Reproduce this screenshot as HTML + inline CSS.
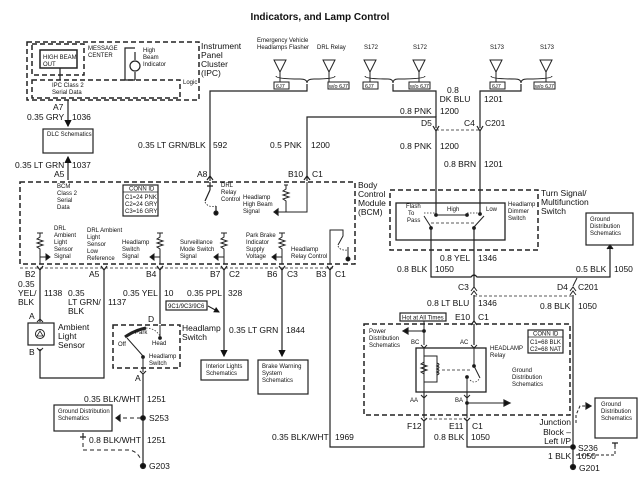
<!DOCTYPE html>
<html><head><meta charset="utf-8"><style>
html,body{margin:0;padding:0;background:#fff}
svg{display:block}
text{font-family:"Liberation Sans",Arial,sans-serif;fill:#111}
.s{font-size:6px}.m{font-size:8.5px}.l{font-size:10px}
</style></head><body>
<svg width="640" height="480" viewBox="0 0 640 480" xmlns="http://www.w3.org/2000/svg">
<defs>
<marker id="ar" markerWidth="6" markerHeight="6" refX="5" refY="3" orient="auto"><path d="M0,0 L6,3 L0,6z" fill="#111"/></marker>
</defs>
<g stroke="#222" fill="none" stroke-width="1.2">
<text x="320" y="20" text-anchor="middle" style="font-size:10px;font-weight:bold" stroke="none">Indicators, and Lamp Control</text>

<!-- IPC -->
<rect x="27" y="42" width="172" height="58" stroke-dasharray="5,3" stroke-width="1.5"/>
<rect x="32" y="44" width="52" height="31" stroke-dasharray="5,3" stroke-width="1.5"/>
<rect x="40" y="50" width="37" height="18" stroke-width="1.5"/>
<line x1="60" y1="68" x2="60" y2="80"/>
<rect x="32" y="80" width="148" height="18" stroke-dasharray="5,3" stroke-width="1.5"/>
<path d="M125,80 V48 H135 M135,52 V60 M135,72 V80 M125,80 H135"/>
<circle cx="135" cy="66" r="5"/>
<text x="88" y="50" class="s" stroke="none">MESSAGE</text><text x="88" y="57" class="s" stroke="none">CENTER</text>
<text x="43" y="59" class="s" stroke="none">HIGH BEAM</text><text x="43" y="66" class="s" stroke="none">OUT</text>
<text x="143" y="52" class="s" stroke="none">High</text><text x="143" y="59" class="s" stroke="none">Beam</text><text x="143" y="66" class="s" stroke="none">Indicator</text>
<text x="183" y="84" class="s" stroke="none">Logic</text>
<text x="52" y="87" class="s" stroke="none">IPC Class 2</text><text x="52" y="94" class="s" stroke="none">Serial Data</text>
<text x="201" y="49" class="m" stroke="none">Instrument</text><text x="201" y="58" class="m" stroke="none">Panel</text><text x="201" y="67" class="m" stroke="none">Cluster</text><text x="201" y="76" class="m" stroke="none">(IPC)</text>

<!-- DLC -->
<line x1="68" y1="100" x2="68" y2="126" marker-end="url(#ar)"/>
<text x="53" y="110" class="m" stroke="none">A7</text>
<text x="27" y="120" class="m" stroke="none">0.35 GRY</text><text x="72" y="120" class="m" stroke="none">1036</text>
<rect x="43" y="129" width="50" height="24"/>
<text x="47" y="136" class="s" stroke="none">DLC Schematics</text>
<line x1="68" y1="180" x2="68" y2="157" marker-end="url(#ar)"/>
<text x="15" y="168" class="m" stroke="none">0.35 LT GRN</text><text x="72" y="168" class="m" stroke="none">1037</text>
<text x="54" y="177" class="m" stroke="none">A5</text>

<!-- top splices -->
<g stroke-width="1">
<path d="M274,60 L286,60 L280,72z"/><line x1="280" y1="72" x2="280" y2="82"/>
<path d="M323,60 L335,60 L329,72z"/><line x1="329" y1="72" x2="329" y2="82"/>
<path d="M364,60 L376,60 L370,72z"/><line x1="370" y1="72" x2="370" y2="82"/>
<path d="M413,60 L425,60 L419,72z"/><line x1="419" y1="72" x2="419" y2="82"/>
<path d="M490,60 L502,60 L496,72z"/><line x1="496" y1="72" x2="496" y2="82"/>
<path d="M540,60 L552,60 L546,72z"/><line x1="546" y1="72" x2="546" y2="82"/>
<path d="M276,76 Q276,79 300,79 Q307,79 307,83 Q307,79 314,79 Q335,79 335,76"/>
<path d="M365,76 Q365,79 388,79 Q393,79 393,83 Q393,79 398,79 Q425,79 425,76"/>
<path d="M491,76 Q491,79 515,79 Q521,79 521,83 Q521,79 527,79 Q552,79 552,76"/>
</g>
<text x="257" y="42" class="s" stroke="none">Emergency Vehicle</text><text x="257" y="49" class="s" stroke="none">Headlamps Flasher</text>
<text x="317" y="49" class="s" stroke="none">DRL Relay</text>
<text x="364" y="49" class="s" stroke="none">S172</text><text x="413" y="49" class="s" stroke="none">S172</text>
<text x="490" y="49" class="s" stroke="none">S173</text><text x="540" y="49" class="s" stroke="none">S173</text>
<g stroke-width="1"><rect x="274" y="82" width="15" height="7"/><rect x="328" y="82" width="21" height="7"/><rect x="363" y="82" width="15" height="7"/><rect x="409" y="82" width="21" height="7"/><rect x="490" y="82" width="15" height="7"/><rect x="534" y="82" width="21" height="7"/></g>
<g class="s" stroke="none" style="font-size:5.5px"><text x="276" y="88">6J7</text><text x="329" y="88">w/o 6J7</text><text x="365" y="88">6J7</text><text x="410" y="88">w/o 6J7</text><text x="492" y="88">6J7</text><text x="535" y="88">w/o 6J7</text></g>

<!-- wires to top -->
<path d="M210,181 V91 H307 V84"/>
<text x="138" y="148" class="m" stroke="none">0.35 LT GRN/BLK</text><text x="213" y="148" class="m" stroke="none">592</text>
<path d="M307,181 V117 H436 V128"/>
<text x="270" y="148" class="m" stroke="none">0.5 PNK</text><text x="311" y="148" class="m" stroke="none">1200</text>
<path d="M393,84 V91 H436 V117"/>
<text x="400" y="114" class="m" stroke="none">0.8 PNK</text><text x="440" y="114" class="m" stroke="none">1200</text>
<path d="M521,84 V91 H480 V128"/>
<text x="447" y="93" class="m" stroke="none">0.8</text><text x="455" y="102" class="m" stroke="none" text-anchor="middle">DK BLU</text><text x="484" y="102" class="m" stroke="none">1201</text>
<path d="M433,126 L436,131 L439,126 M477,126 L480,131 L483,126"/>
<line x1="436" y1="130" x2="480" y2="130" stroke-dasharray="3,2" stroke-width="0.8"/>
<text x="421" y="126" class="m" stroke="none">D5</text><text x="464" y="126" class="m" stroke="none">C4</text><text x="485" y="126" class="m" stroke="none">C201</text>
<line x1="436" y1="131" x2="436" y2="214"/><line x1="480" y1="131" x2="480" y2="214"/>
<text x="400" y="149" class="m" stroke="none">0.8 PNK</text><text x="440" y="149" class="m" stroke="none">1200</text>
<text x="444" y="167" class="m" stroke="none">0.8 BRN</text><text x="484" y="167" class="m" stroke="none">1201</text>

<!-- BCM -->
<rect x="20" y="182" width="335" height="82" stroke-dasharray="5,3" stroke-width="1.5"/>
<line x1="20" y1="268" x2="335" y2="268" stroke-dasharray="3,2" stroke-width="0.8"/>
<text x="358" y="188" class="m" stroke="none">Body</text><text x="358" y="197" class="m" stroke="none">Control</text><text x="358" y="206" class="m" stroke="none">Module</text><text x="358" y="215" class="m" stroke="none">(BCM)</text>
<text x="57" y="188" class="s" stroke="none">BCM</text><text x="57" y="195" class="s" stroke="none">Class 2</text><text x="57" y="202" class="s" stroke="none">Serial</text><text x="57" y="209" class="s" stroke="none">Data</text>
<rect x="123" y="185" width="35" height="31" stroke-width="1.2"/><line x1="123" y1="192" x2="158" y2="192" stroke-width="0.8"/>
<text x="129" y="190.5" class="s" stroke="none">CONN ID</text><text x="125" y="199" class="s" stroke="none">C1=24 PNK</text><text x="125" y="206" class="s" stroke="none">C2=24 GRY</text><text x="125" y="213" class="s" stroke="none">C3=16 GRY</text>
<path d="M207,180 L210,176 L213,180 M304,180 L307,176 L310,180"/>
<text x="197" y="177" class="m" stroke="none">A8</text><text x="288" y="177" class="m" stroke="none">B10</text><text x="312" y="177" class="m" stroke="none">C1</text>
<path d="M210,182 V190 M207,186 H213 M210,190 L205,201"/>
<path d="M205,202 Q208,208 216,206" stroke-dasharray="1.5,1.5" stroke-width="0.8"/>
<path d="M216,206 V212"/><circle cx="216" cy="213" r="2" fill="#111"/>
<text x="221" y="187" class="s" stroke="none">DRL</text><text x="221" y="194" class="s" stroke="none">Relay</text><text x="221" y="201" class="s" stroke="none">Control</text>
<path d="M284,185 H288 M286,185 V189 l-3,2 6,2 -6,2 6,2 -6,2 3,2 V212 M286,212 H274 M307,182 V212 H286" stroke-width="1"/>
<path d="M278,209 L274,212 L278,215z" fill="#111"/>
<text x="243" y="199" class="s" stroke="none">Headlamp</text><text x="243" y="206" class="s" stroke="none">High Beam</text><text x="243" y="213" class="s" stroke="none">Signal</text>
<g stroke-width="1">
<path d="M37,233 H43 M40,233 V237 l-3,2 6,2 -6,2 6,2 -6,2 3,2 V264 M40,257 H47"/><path d="M46,254 L50,257 L46,260z" fill="#111"/>
<path d="M157,233 H163 M160,233 V237 l-3,2 6,2 -6,2 6,2 -6,2 3,2 V264 M160,257 H153"/><path d="M154,254 L150,257 L154,260z" fill="#111"/>
<path d="M221,233 H227 M224,233 V237 l-3,2 6,2 -6,2 6,2 -6,2 3,2 V264 M224,257 H217"/><path d="M218,254 L214,257 L218,260z" fill="#111"/>
<path d="M279,233 H285 M282,233 V237 l-3,2 6,2 -6,2 6,2 -6,2 3,2 V264 M282,257 H275"/><path d="M276,254 L272,257 L276,260z" fill="#111"/>
<path d="M330,264 V230 H343 V236 L338,245"/><path d="M338,246 Q340,251 348,250" stroke-dasharray="1.5,1.5" stroke-width="0.8"/>
<path d="M348,247 V258"/><circle cx="348" cy="259" r="2" fill="#111"/>
</g>
<g class="s" stroke="none">
<text x="54" y="230">DRL</text><text x="54" y="237">Ambient</text><text x="54" y="244">Light</text><text x="54" y="251">Sensor</text><text x="54" y="258">Signal</text>
<text x="87" y="232">DRL Ambient</text><text x="87" y="239">Light</text><text x="87" y="246">Sensor</text><text x="87" y="253">Low</text><text x="87" y="260">Reference</text>
<text x="122" y="244">Headlamp</text><text x="122" y="251">Switch</text><text x="122" y="258">Signal</text>
<text x="180" y="244">Surveillance</text><text x="180" y="251">Mode Switch</text><text x="180" y="258">Signal</text>
<text x="246" y="237">Park Brake</text><text x="246" y="244">Indicator</text><text x="246" y="251">Supply</text><text x="246" y="258">Voltage</text>
<text x="291" y="251">Headlamp</text><text x="291" y="258">Relay Control</text>
</g>
<path d="M37,266 L40,270 L43,266 M101,266 L104,270 L107,266 M157,266 L160,270 L163,266 M221,266 L224,270 L227,266 M279,266 L282,270 L285,266 M327,266 L330,270 L333,266"/>
<g class="m" stroke="none">
<text x="25" y="277">B2</text><text x="89" y="277">A5</text><text x="146" y="277">B4</text><text x="210" y="277">B7</text><text x="229" y="277">C2</text><text x="267" y="277">B6</text><text x="287" y="277">C3</text><text x="316" y="277">B3</text><text x="335" y="277">C1</text>
<text x="18" y="287">0.35</text><text x="18" y="296">YEL/</text><text x="18" y="305">BLK</text><text x="44" y="296">1138</text>
<text x="68" y="296">0.35</text><text x="68" y="305">LT GRN/</text><text x="68" y="314">BLK</text><text x="108" y="305">1137</text>
<text x="123" y="296">0.35 YEL</text><text x="164" y="296">10</text>
<text x="187" y="296">0.35 PPL</text><text x="228" y="296">328</text>
<text x="229" y="333">0.35 LT GRN</text><text x="286" y="333">1844</text>
<text x="29" y="319">A</text><text x="29" y="355">B</text><text x="148" y="322">D</text><text x="135" y="381">A</text>
</g>
<line x1="40" y1="270" x2="40" y2="322"/>
<path d="M104,270 V378 H40 V349"/>
<rect x="28" y="323" width="26" height="22"/>
<circle cx="40" cy="334" r="4.5" stroke-width="1"/><path d="M37,336 H43 L40,331z" stroke-width="0.8"/>
<path d="M37,322 L40,319 L43,322 M37,348 L40,351 L43,348" stroke-width="1"/>
<text x="58" y="330" class="m" stroke="none">Ambient</text><text x="58" y="339" class="m" stroke="none">Light</text><text x="58" y="348" class="m" stroke="none">Sensor</text>
<line x1="160" y1="270" x2="160" y2="324"/>
<rect x="113" y="325" width="67" height="43" stroke-dasharray="5,3" stroke-width="1.5"/>
<path d="M160,325 V337" stroke-width="1"/><circle cx="160" cy="338" r="1.3" fill="#111"/>
<path d="M125,337 Q135,330 146,328" stroke-width="3"/>
<path d="M146,328 Q155,328 160,336" stroke-dasharray="1.5,1.5" stroke-width="0.7"/>
<path d="M143,356 L127,338" stroke-width="1"/><circle cx="143" cy="357" r="1.3" fill="#111"/>
<path d="M143,357 V372" stroke-width="1"/>
<text x="118" y="346" class="s" stroke="none">Off</text><text x="135" y="334" class="s" stroke="none">Park</text><text x="152" y="345" class="s" stroke="none">Head</text>
<text x="149" y="358" class="s" stroke="none">Headlamp</text><text x="149" y="365" class="s" stroke="none">Switch</text>
<text x="182" y="331" class="m" stroke="none">Headlamp</text><text x="182" y="340" class="m" stroke="none">Switch</text>
<path d="M140,371 L143,374 L146,371"/>
<line x1="143" y1="374" x2="143" y2="464"/>
<text x="84" y="402" class="m" stroke="none">0.35 BLK/WHT</text><text x="147" y="402" class="m" stroke="none">1251</text>
<rect x="54" y="405" width="58" height="26"/>
<text x="58" y="413" class="s" stroke="none">Ground Distribution</text><text x="58" y="420" class="s" stroke="none">Schematics</text>
<circle cx="143" cy="418" r="2.3" fill="#111"/>
<line x1="141" y1="418" x2="122" y2="418" stroke-dasharray="4,3" stroke-width="1"/><path d="M120,415 L116,418 L120,421z" fill="#111"/>
<text x="149" y="421" class="m" stroke="none">S253</text>
<text x="89" y="443" class="m" stroke="none">0.8 BLK/WHT</text><text x="147" y="443" class="m" stroke="none">1251</text>
<path d="M83,436 V450 H130 Q138,452 141,460" stroke-dasharray="4,3" stroke-width="1"/><path d="M80,437 L86,437 M83,433 V437" stroke-width="1.2"/>
<circle cx="143" cy="466" r="2.5" fill="#111"/>
<text x="149" y="469" class="m" stroke="none">G203</text>
<line x1="224" y1="270" x2="224" y2="356" marker-end="url(#ar)"/>
<rect x="166" y="301" width="41" height="9" stroke-width="1.2"/><text x="168" y="308" class="s" stroke="none">9C1/9C3/9C6</text>
<line x1="208" y1="306" x2="219" y2="312" stroke-width="1" marker-end="url(#ar)"/>
<rect x="201" y="360" width="47" height="20"/><text x="206" y="368" class="s" stroke="none">Interior Lights</text><text x="206" y="375" class="s" stroke="none">Schematics</text>
<line x1="282" y1="270" x2="282" y2="356" marker-end="url(#ar)"/>
<rect x="258" y="360" width="50" height="34"/><text x="262" y="368" class="s" stroke="none">Brake Warning</text><text x="262" y="375" class="s" stroke="none">System</text><text x="262" y="382" class="s" stroke="none">Schematics</text>
<path d="M330,270 V447 H424 V421"/>
<text x="272" y="440" class="m" stroke="none">0.35 BLK/WHT</text><text x="335" y="440" class="m" stroke="none">1969</text>

<rect x="390" y="190" width="148" height="60" stroke-dasharray="5,3" stroke-width="1.5"/>
<rect x="396" y="203" width="109" height="37" stroke-width="1.3"/>
<text x="541" y="196" class="m" stroke="none">Turn Signal/</text><text x="541" y="205" class="m" stroke="none">Multifunction</text><text x="541" y="214" class="m" stroke="none">Switch</text>
<text x="447" y="211" class="s" stroke="none">High</text><text x="486" y="211" class="s" stroke="none">Low</text>
<text x="406" y="208" class="s" stroke="none">Flash</text><text x="408" y="215" class="s" stroke="none">To</text><text x="407" y="222" class="s" stroke="none">Pass</text>
<text x="508" y="206" class="s" stroke="none">Headlamp</text><text x="508" y="213" class="s" stroke="none">Dimmer</text><text x="508" y="220" class="s" stroke="none">Switch</text>
<path d="M436,214 V215 H467" stroke-width="1"/><circle cx="436" cy="215" r="1.3" fill="#111"/><circle cx="467" cy="215" r="1.3" fill="#111"/><circle cx="480" cy="214" r="1.3" fill="#111"/>
<path d="M424,213 H436 M467,213 H482" stroke-dasharray="1.5,1.5" stroke-width="0.7"/>
<path d="M424,216 L431,227 M484,216 L474,227" stroke-width="1"/>
<line x1="431" y1="223" x2="474" y2="223" stroke-dasharray="3,2" stroke-width="0.8"/>
<circle cx="431" cy="228" r="1.3" fill="#111"/><circle cx="474" cy="228" r="1.3" fill="#111"/>
<path d="M431,228 V277 H471 Q474,273 477,277 H610 V249"/>
<path d="M607,249 L610,245 L613,249" fill="#111"/>
<rect x="586" y="213" width="47" height="32"/>
<text x="590" y="221" class="s" stroke="none">Ground</text><text x="590" y="228" class="s" stroke="none">Distribution</text><text x="590" y="235" class="s" stroke="none">Schematics</text>
<line x1="474" y1="228" x2="474" y2="287"/>
<text x="440" y="261" class="m" stroke="none">0.8 YEL</text><text x="478" y="261" class="m" stroke="none">1346</text>
<text x="397" y="272" class="m" stroke="none">0.8 BLK</text><text x="435" y="272" class="m" stroke="none">1050</text>
<text x="576" y="272" class="m" stroke="none">0.5 BLK</text><text x="614" y="272" class="m" stroke="none">1050</text>
<path d="M471,291 L474,287 L477,291 M471,295 L474,291 L477,295 M570,291 L573,287 L576,291 M570,295 L573,291 L576,295" stroke-width="1"/>
<line x1="573" y1="286" x2="577" y2="278" stroke-width="1"/>
<line x1="474" y1="296" x2="573" y2="296" stroke-dasharray="3,2" stroke-width="0.8"/>
<text x="458" y="290" class="m" stroke="none">C3</text><text x="557" y="290" class="m" stroke="none">D4</text><text x="578" y="290" class="m" stroke="none">C201</text>
<line x1="474" y1="295" x2="474" y2="322"/>
<text x="427" y="306" class="m" stroke="none">0.8 LT BLU</text><text x="478" y="306" class="m" stroke="none">1346</text>
<text x="540" y="309" class="m" stroke="none">0.8 BLK</text><text x="578" y="309" class="m" stroke="none">1050</text>
<line x1="573" y1="295" x2="573" y2="465"/>
<rect x="400" y="313" width="46" height="8" stroke-width="1.2"/><text x="402" y="319.5" class="s" stroke="none">Hot at All Times</text>
<text x="455" y="320" class="m" stroke="none">E10</text><text x="478" y="320" class="m" stroke="none">C1</text>
<path d="M471,325 L474,321 L477,325"/>
<rect x="364" y="324" width="206" height="91" stroke-dasharray="5,3" stroke-width="1.5"/>
<rect x="528" y="330" width="35" height="23" stroke-width="1.2"/><line x1="528" y1="337" x2="563" y2="337" stroke-width="0.8"/>
<text x="533" y="335.5" class="s" stroke="none">CONN ID</text><text x="530" y="344" class="s" stroke="none">C1=68 BLK</text><text x="530" y="351" class="s" stroke="none">C2=68 NAT</text>
<path d="M424,321 V345 M424,331 H407" stroke-width="1"/><path d="M408,328 L403,331 L408,334z" fill="#111"/><circle cx="424" cy="331" r="1.3" fill="#111"/>
<text x="369" y="333" class="s" stroke="none">Power</text><text x="369" y="340" class="s" stroke="none">Distribution</text><text x="369" y="347" class="s" stroke="none">Schematics</text>
<text x="411" y="344" class="s" stroke="none">BC</text><text x="460" y="344" class="s" stroke="none">AC</text>
<line x1="474" y1="324" x2="474" y2="345"/>
<path d="M421,345 L424,348 L427,345 M471,345 L474,348 L477,345" stroke-width="1"/>
<rect x="416" y="348" width="70" height="44" stroke-width="1.3"/>
<text x="490" y="350" class="s" stroke="none">HEADLAMP</text><text x="490" y="357" class="s" stroke="none">Relay</text>
<text x="512" y="372" class="s" stroke="none">Ground</text><text x="512" y="379" class="s" stroke="none">Distribution</text><text x="512" y="386" class="s" stroke="none">Schematics</text>
<path d="M424,348 V392 M424,356 H437 V382 H424 M424,362 l-3,2 6,2 -6,2 6,2 -6,2 3,2" stroke-width="1"/>
<path d="M437,363 q4,1.5 0,3 q4,1.5 0,3 q4,1.5 0,3 q4,1.5 0,3" stroke-width="1"/>
<line x1="442" y1="370" x2="472" y2="370" stroke-dasharray="3,2" stroke-width="0.8"/>
<path d="M474,348 V366 L480,378 M467,377 V392" stroke-width="1"/><circle cx="474" cy="366" r="1.3" fill="#111"/><circle cx="467" cy="377" r="1.3" fill="#111"/>
<path d="M470,380 Q475,385 480,378" stroke-dasharray="1.5,1.5" stroke-width="0.7"/>
<path d="M421,395 L424,398 L427,395 M464,395 L467,398 L470,395" stroke-width="1"/>
<text x="410" y="402" class="s" stroke="none">AA</text><text x="455" y="402" class="s" stroke="none">BA</text>
<path d="M424,392 V418 M467,392 V418 M467,403 H505" stroke-width="1.1"/><circle cx="467" cy="403" r="1.3" fill="#111"/>
<path d="M504,400 L510,403 L504,406z" fill="#111"/>
<path d="M421,418 L424,421 L427,418 M464,418 L467,421 L470,418"/>
<line x1="424" y1="419" x2="467" y2="419" stroke-dasharray="3,2" stroke-width="0.8"/>
<text x="407" y="429" class="m" stroke="none">F12</text><text x="449" y="429" class="m" stroke="none">E11</text><text x="472" y="429" class="m" stroke="none">C1</text>
<path d="M467,421 V447 H573"/>
<text x="434" y="440" class="m" stroke="none">0.8 BLK</text><text x="471" y="440" class="m" stroke="none">1050</text>
<text x="571" y="425" class="m" stroke="none" text-anchor="end">Junction</text><text x="571" y="435" class="m" stroke="none" text-anchor="end">Block –</text><text x="571" y="444" class="m" stroke="none" text-anchor="end">Left I/P</text>
<rect x="595" y="398" width="42" height="40"/>
<text x="601" y="406" class="s" stroke="none">Ground</text><text x="601" y="413" class="s" stroke="none">Distribution</text><text x="601" y="420" class="s" stroke="none">Schematics</text>
<path d="M576,423 V415 L580,406 H587" stroke-dasharray="3,2" stroke-width="1"/><path d="M586,403 L591,406 L586,409z" fill="#111"/>
<path d="M576,455 H615 V444" stroke-dasharray="3,2" stroke-width="1"/><path d="M612,443 H618 M615,443 V447" stroke-width="1.2"/>
<circle cx="573" cy="447" r="2.3" fill="#111"/>
<text x="578" y="451" class="m" stroke="none">S236</text>
<text x="548" y="459" class="m" stroke="none">1 BLK</text><text x="577" y="459" class="m" stroke="none">1050</text>
<circle cx="573" cy="467" r="2.5" fill="#111"/>
<text x="579" y="471" class="m" stroke="none">G201</text>
</g>
</svg>
</body></html>
